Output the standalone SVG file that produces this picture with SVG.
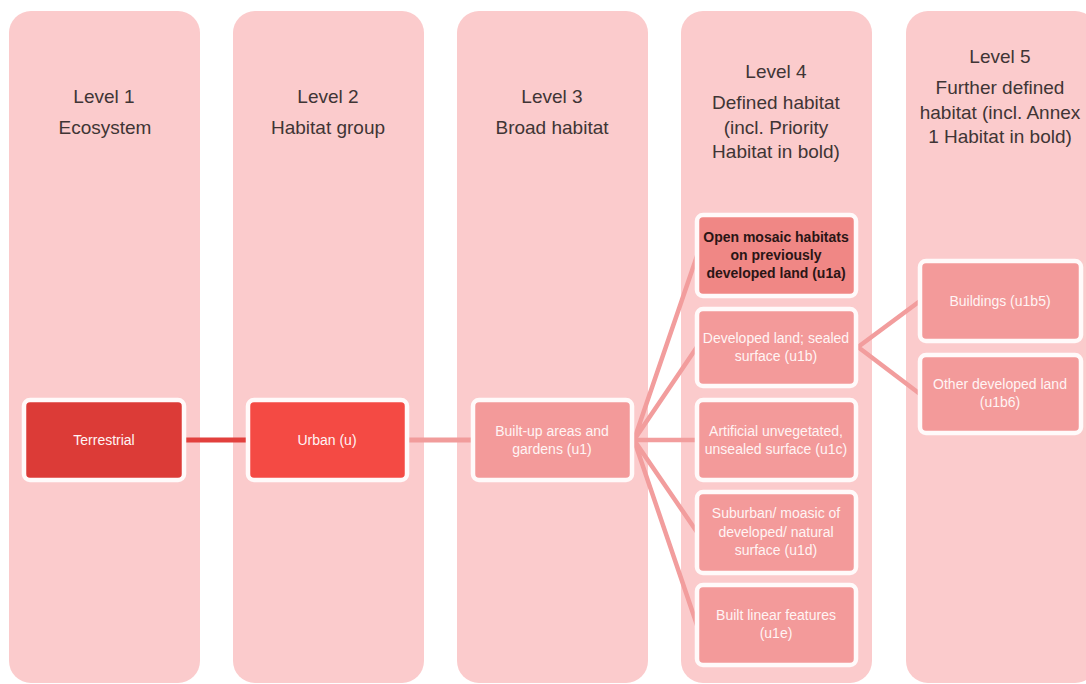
<svg xmlns="http://www.w3.org/2000/svg" width="1086" height="684" viewBox="0 0 1086 684">
<style>
.col{fill:#fbcbcc}
.hdr{font-family:"Liberation Sans",Arial,sans-serif;font-size:19px;fill:#3f3535;text-anchor:middle}
.box{stroke:#fffafa;stroke-width:4.5}
.lbl{font-family:"Liberation Sans",Arial,sans-serif;font-size:14px;fill:#fff4f4;text-anchor:middle}
.bold{font-family:"Liberation Sans",Arial,sans-serif;font-size:14px;font-weight:bold;fill:#2a1515;text-anchor:middle}
.pk{fill:#f39a9a}
.con{stroke:#f29d9d;stroke-width:4.5;fill:none;stroke-linecap:round}
</style>
<rect width="1086" height="684" fill="#ffffff"/>
<g id="columns">
<g id="col1"><rect class="col" x="9" y="11" width="191" height="672" rx="22"/>
<text class="hdr" x="104" y="103">Level 1</text><text class="hdr" x="105" y="134">Ecosystem</text></g>
<g id="col2"><rect class="col" x="233" y="11" width="191" height="672" rx="22"/>
<text class="hdr" x="328" y="103">Level 2</text><text class="hdr" x="328" y="134">Habitat group</text></g>
<g id="col3"><rect class="col" x="457" y="11" width="191" height="672" rx="22"/>
<text class="hdr" x="552" y="103">Level 3</text><text class="hdr" x="552" y="134">Broad habitat</text></g>
<g id="col4"><rect class="col" x="681" y="11" width="191" height="672" rx="22"/>
<text class="hdr" x="776" y="78">Level 4</text><text class="hdr" x="776" y="109">Defined habitat</text>
<text class="hdr" x="776" y="134">(incl. Priority</text><text class="hdr" x="776" y="158">Habitat in bold)</text></g>
<g id="col5"><rect class="col" x="906" y="11" width="191" height="672" rx="22"/>
<text class="hdr" x="1000" y="63">Level 5</text><text class="hdr" x="1000" y="94">Further defined</text>
<text class="hdr" x="1000" y="119">habitat (incl. Annex</text><text class="hdr" x="1000" y="143">1 Habitat in bold)</text></g>
</g>
<g id="connectors">
<line x1="186" y1="440" x2="246" y2="440" stroke="#e2403d" stroke-width="5"/>
<line x1="409" y1="440" x2="472" y2="440" stroke="#f19c9b" stroke-width="5"/>
<path class="con" d="M634 440 L697 256 M634 440 L697 347 M634 440 L697 440 M634 440 L697 532 M634 440 L697 625"/>
<path class="con" d="M858 347 L920 301 M858 347 L920 394"/>
</g>
<g id="n-terrestrial"><rect class="box" x="24" y="400" width="160" height="80" rx="6" fill="#dc3b37"/>
<text class="lbl" x="104" y="445">Terrestrial</text></g>
<g id="n-urban"><rect class="box" x="248" y="400" width="159" height="80" rx="6" fill="#f44a44"/>
<text class="lbl" x="327" y="445">Urban (u)</text></g>
<g id="n-u1"><rect class="box pk" x="473" y="400" width="159" height="80" rx="6"/>
<text class="lbl" x="552" y="436">Built-up areas and</text><text class="lbl" x="552" y="454">gardens (u1)</text></g>
<g id="n-u1a"><rect class="box" x="697" y="215" width="159" height="81" rx="6" fill="#f08785"/>
<text class="bold" x="776" y="242">Open mosaic habitats</text><text class="bold" x="776" y="260">on previously</text><text class="bold" x="776" y="278">developed land (u1a)</text></g>
<g id="n-u1b"><rect class="box pk" x="697" y="309" width="159" height="77" rx="6"/>
<text class="lbl" x="776" y="343">Developed land; sealed</text><text class="lbl" x="776" y="361">surface (u1b)</text></g>
<g id="n-u1c"><rect class="box pk" x="697" y="400" width="159" height="80" rx="6"/>
<text class="lbl" x="776" y="436">Artificial unvegetated,</text><text class="lbl" x="776" y="454">unsealed surface (u1c)</text></g>
<g id="n-u1d"><rect class="box pk" x="697" y="492" width="159" height="81" rx="6"/>
<text class="lbl" x="776" y="518">Suburban/ moasic of</text><text class="lbl" x="776" y="537">developed/ natural</text><text class="lbl" x="776" y="555">surface (u1d)</text></g>
<g id="n-u1e"><rect class="box pk" x="697" y="585" width="159" height="80" rx="6"/>
<text class="lbl" x="776" y="620">Built linear features</text><text class="lbl" x="776" y="638">(u1e)</text></g>
<g id="n-u1b5"><rect class="box pk" x="920" y="261" width="161" height="80" rx="6"/>
<text class="lbl" x="1000" y="306">Buildings (u1b5)</text></g>
<g id="n-u1b6"><rect class="box pk" x="920" y="355" width="161" height="78" rx="6"/>
<text class="lbl" x="1000" y="389">Other developed land</text><text class="lbl" x="1000" y="407">(u1b6)</text></g>
</svg>
